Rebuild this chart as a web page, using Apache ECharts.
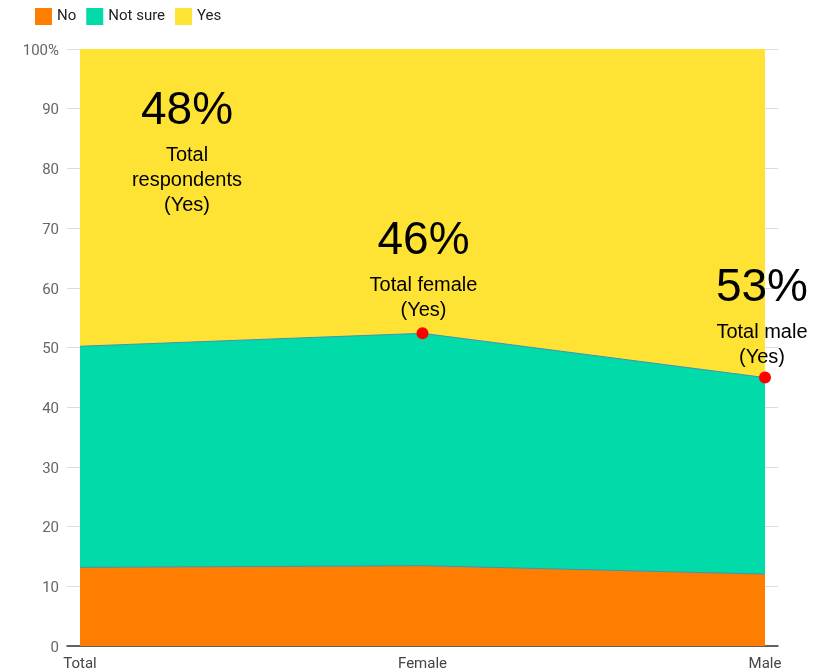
<!DOCTYPE html>
<html>
<head>
<meta charset="utf-8">
<script src="https://cdn.jsdelivr.net/npm/echarts@6/dist/echarts.min.js"></script>
<style>
  html, body { margin: 0; padding: 0; background: #fff; }
  #chart { width: 821px; height: 672px; }
</style>
</head>
<body>
<div id="chart"></div>
<script>
// Survey answers per group (raw percentages of respondents)
const categories = ['Total', 'Female', 'Male'];
const noValues = [12.7, 13.0, 11.6];
const notSureValues = [35.7, 37.6, 31.7];
const yesValues = [48, 46, 53];
const yTicks = [0, 10, 20, 30, 40, 50, 60, 70, 80, 90, 100];

const colors = { no: '#ff7d00', notSure: '#00dba9', yes: '#ffe334' };

// Normalise each group to 100% and build cumulative tops for the stacked areas
const totals = categories.map((_, i) => noValues[i] + notSureValues[i] + yesValues[i]);
const noTop = categories.map((_, i) => noValues[i] / totals[i] * 100);
const notSureTop = categories.map((_, i) => (noValues[i] + notSureValues[i]) / totals[i] * 100);
const yesTop = categories.map((_, i) => (noValues[i] + notSureValues[i] + yesValues[i]) / totals[i] * 100);

// Groups that get a highlight dot on the "Not sure" boundary
const highlighted = ['Female', 'Male'];

const chart = echarts.init(document.getElementById('chart'));

function areaSeries(name, tops, color, withDots, showLine) {
  return {
    name: name,
    type: 'line',
    data: tops.map((v, i) => {
      const item = { value: [i, v] };
      if (withDots && highlighted.includes(categories[i])) {
        item.symbol = 'circle';
        item.symbolSize = 12;
        item.itemStyle = { color: '#ff0000', borderWidth: 0 };
      } else {
        item.symbol = 'none';
      }
      return item;
    }),
    showSymbol: true,
    color: color,
    itemStyle: { color: color },
    lineStyle: showLine ? { color: '#3f95b5', width: 1 } : { width: 0, color: color },
    areaStyle: { color: color, opacity: 1, origin: 'start' },
    emphasis: { disabled: true },
    silent: true,
    animation: false
  };
}

const annFont = 'Liberation Sans';
function annotation(x, y, big, lines) {
  const els = [{
    type: 'text', x: x, y: y, z: 100,
    style: { text: big, fontFamily: annFont, fontSize: 46, fill: '#000', align: 'center', verticalAlign: 'middle' }
  }];
  lines.forEach((t, k) => {
    els.push({
      type: 'text', x: x, y: y + 44 + k * 25, z: 100,
      style: { text: t, fontFamily: annFont, fontSize: 20, fill: '#000', align: 'center', verticalAlign: 'middle' }
    });
  });
  return els;
}

chart.setOption({
  backgroundColor: '#fff',
  animation: false,
  textStyle: { fontFamily: 'Roboto, sans-serif' },
  legend: {
    data: ['No', 'Not sure', 'Yes'],
    left: 30, top: 3,
    itemWidth: 17, itemHeight: 17, itemGap: 10,
    icon: 'rect',
    textStyle: { fontSize: 15, color: '#222', fontFamily: 'Roboto, sans-serif' },
    selectedMode: false
  },
  grid: { left: 67, right: 43, top: 49, bottom: 26, containLabel: false },
  xAxis: {
    type: 'value',
    min: -0.038, max: 2.038,
    splitLine: { show: false },
    axisLine: { show: true, onZero: false, lineStyle: { color: '#333', width: 1.5 } },
    axisTick: { show: false },
    axisLabel: {
      customValues: [0, 1, 2],
      formatter: v => categories[Math.round(v)],
      color: '#444', fontSize: 15, margin: 11,
      showMinLabel: true, showMaxLabel: true
    }
  },
  yAxis: {
    type: 'value',
    min: 0, max: 100, interval: 10,
    axisLine: { show: false },
    axisTick: { show: false },
    splitLine: { show: true, lineStyle: { color: '#dcdcdc', width: 1 } },
    axisLabel: {
      formatter: v => '{t|' + (v === 100 ? '100%' : String(v)) + '}',
      margin: 8,
      rich: { t: { color: '#666', fontSize: 15, fontFamily: 'Roboto, sans-serif', padding: [4, 0, 0, 0] } }
    }
  },
  series: [
    areaSeries('Yes', yesTop, colors.yes, false, false),
    areaSeries('Not sure', notSureTop, colors.notSure, true, true),
    areaSeries('No', noTop, colors.no, false, true)
  ]
});

// Headline annotations: Yes share for each group
const fx = chart.convertToPixel({ gridIndex: 0 }, [1, 0])[0];
const mx = chart.convertToPixel({ gridIndex: 0 }, [2, 0])[0];
const graphics = [].concat(
  annotation(187, 111, yesValues[0] + '%', ['Total', 'respondents', '(Yes)']),
  annotation(fx + 1, 241, yesValues[1] + '%', ['Total female', '(Yes)']),
  annotation(mx - 3, 288, yesValues[2] + '%', ['Total male', '(Yes)'])
);
chart.setOption({ graphic: { elements: graphics } });
</script>
</body>
</html>
